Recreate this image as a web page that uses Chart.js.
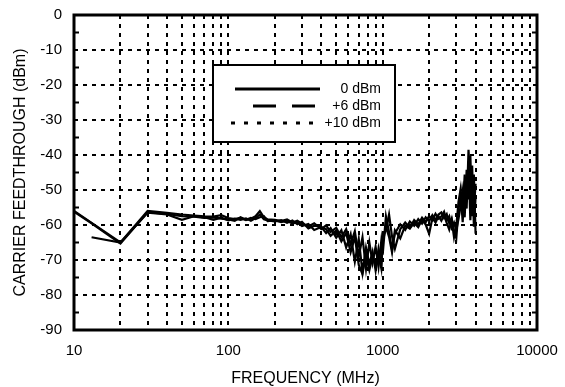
<!doctype html>
<html lang="en">

<head>
    <meta charset="utf-8">
    <title>Carrier Feedthrough vs Frequency</title>
    <style>
        body { margin: 0; background: #fff; }
    </style>
</head>

<body>
    <div id="container" style="width:565px;height:387px"><canvas id="chart"></canvas></div>

    <script type="text/javascript" src="https://cdn.jsdelivr.net/npm/chart.js@4/dist/chart.umd.min.js"></script>
    <script type="text/javascript">
        const FREQ = [10, 13, 20, 30, 40, 50, 60, 70, 80, 90,
            100, 110, 120, 130, 140, 150, 160, 170, 180, 200,
            220, 240, 260, 280, 300, 330, 360, 400, 430, 460,
            500, 540, 580, 620, 660, 700, 740, 780, 820, 860,
            900, 940, 980, 1000, 1050, 1100, 1150, 1200, 1300, 1400,
            1500, 1600, 1700, 1800, 1900, 2000, 2100, 2200, 2300, 2400,
            2500, 2600, 2700, 2800, 2900, 3000, 3100, 3200, 3300, 3400,
            3500, 3600, 3700, 3800, 3900, 4000];
        const DBM_0 = [-56, -59.4, -65, -56, -56.5, -57, -57.3, -57.5, -57.6, -57.2,
            -58, -58.3, -58, -58.6, -58.2, -57.5, -56, -57.8, -58.4, -58.5,
            -58.9, -58.4, -59.3, -58.8, -59.6, -60.4, -59.5, -61.2, -60.1, -62,
            -60.8, -63.5, -61.2, -65.5, -61.8, -69, -63.5, -72.5, -65, -70.8,
            -66.2, -72, -64.5, -68.5, -57.5, -62, -67, -62.4, -59.8, -61.4,
            -59, -60.2, -58.3, -59.6, -57.8, -58.9, -57.2, -58.5, -57, -56.4,
            -58, -56.9, -59.5, -58.2, -61.6, -63.8, -55.5, -51, -59.2, -47.5,
            -55.3, -38.5, -49.5, -43, -60.5, -52];
        const DBM_6 = [null, -63.5, -65, -56.5, -57, -58.5, -57.5, -57.8, -58.5, -57.9,
            -58.7, -58.2, -58.5, -58.1, -58.8, -58, -57, -58.4, -58.7, -59,
            -58.6, -59.4, -58.7, -59.8, -59.1, -61, -60.2, -60.5, -62.3, -60.9,
            -63.6, -61.5, -66.4, -62.6, -70.5, -64, -73.5, -66.5, -71.2, -67.6,
            -73, -66.8, -70.9, -63.2, -61.5, -57, -63.3, -66.8, -61.2, -59.3,
            -60.8, -58.6, -59.8, -57.9, -59.2, -57.4, -58.6, -56.8, -58.2, -57.6,
            -56.2, -58.7, -57.5, -60.8, -59.3, -61.5, -58.2, -54.6, -50.3, -57.8,
            -44.2, -52.7, -40.2, -57.5, -45.6, -62.5];
        const DBM_10 = [-56.2, -59.5, -65.3, -56.3, -56.8, -57.5, -57.6, -58, -57.8, -58.2,
            -58.4, -58.8, -57.8, -58.5, -58, -58.3, -57.8, -57.5, -58.9, -58.7,
            -59.2, -58.8, -59.6, -59.2, -60.3, -59.7, -61.4, -60.6, -61.2, -63.1,
            -61.6, -64.7, -62.3, -67.8, -63.4, -71.4, -74, -68.3, -72.9, -69,
            -71.6, -68.2, -72.4, -65, -60.5, -63.4, -67.8, -61.5, -63.8, -60.2,
            -61, -59.4, -60.6, -58.5, -59.9, -62.5, -58, -59.3, -57.5, -58.8,
            -57.1, -59.4, -61.3, -58.5, -63.5, -60.4, -53.4, -49.7, -56.8, -45.6,
            -53.5, -41.8, -58.6, -46.3, -55.4, -48.2];
        const X_LABELS = [10, 100, 1000, 10000];
        const SERIES_NAMES = ["0 dBm", "+6 dBm", "+10 dBm"];

        [DBM_0, DBM_6, DBM_10].forEach(s => {
            if (s.length !== FREQ.length) throw new Error("length mismatch " + s.length + " vs " + FREQ.length);
        });

        const toPoints = vals => FREQ.map((f, i) => ({ x: f, y: vals[i] })).filter(p => p.y !== null);

        // every 1..9 x decade gets a grid line, only decades get a label
        const logTicks = [];
        for (let d = 10; d < 10000; d *= 10) {
            for (let m = 1; m < 10; m++) logTicks.push({ value: m * d });
        }
        logTicks.push({ value: 10000 });

        const framePlugin = {
            id: "frame",
            afterDraw(chart) {
                const { ctx, chartArea: a } = chart;
                const y = chart.scales.y;
                ctx.save();
                ctx.strokeStyle = "#000";
                // inward minor ticks at the odd 5 dB marks, both sides
                ctx.lineWidth = 2;
                ctx.beginPath();
                for (let v = -5; v > -90; v -= 10) {
                    const py = y.getPixelForValue(v);
                    ctx.moveTo(a.left, py); ctx.lineTo(a.left + 5, py);
                    ctx.moveTo(a.right, py); ctx.lineTo(a.right - 5, py);
                }
                ctx.stroke();
                ctx.lineWidth = 3;
                ctx.strokeRect(a.left, a.top, a.right - a.left, a.bottom - a.top);

                // legend box
                const bx = 213, by = 65, bw = 182, bh = 77;
                ctx.fillStyle = "#fff";
                ctx.fillRect(bx, by, bw, bh);
                ctx.lineWidth = 2;
                ctx.strokeRect(bx, by, bw, bh);
                const rows = [
                    { y: 89, x0: 235, x1: 320, dash: [] },
                    { y: 106, x0: 253, x1: 316, dash: [23, 16] },
                    { y: 123, x0: 231, x1: 314, dash: [4, 9] }
                ];
                ctx.font = "14px 'Liberation Sans', Arial, sans-serif";
                ctx.textAlign = "right";
                ctx.textBaseline = "middle";
                rows.forEach((r, i) => {
                    ctx.lineWidth = 3;
                    ctx.setLineDash(r.dash);
                    ctx.beginPath();
                    ctx.moveTo(r.x0, r.y); ctx.lineTo(r.x1, r.y);
                    ctx.stroke();
                    ctx.setLineDash([]);
                    ctx.fillStyle = "#000";
                    ctx.fillText(SERIES_NAMES[i], 381, r.y);
                });
                ctx.restore();
            }
        };

        const lineStyle = {
            borderColor: "#000",
            borderWidth: 2.2,
            pointRadius: 0,
            tension: 0,
            fill: false
        };

        const config = {
            type: "line",
            data: {
                datasets: [
                    { label: SERIES_NAMES[0], data: toPoints(DBM_0), ...lineStyle },
                    { label: SERIES_NAMES[1], data: toPoints(DBM_6), ...lineStyle },
                    { label: SERIES_NAMES[2], data: toPoints(DBM_10), ...lineStyle }
                ]
            },
            options: {
                responsive: true,
                maintainAspectRatio: false,
                animation: false,
                layout: { padding: { top: 15, right: 28, left: 0, bottom: 0 } },
                scales: {
                    x: {
                        type: "logarithmic",
                        min: 10,
                        max: 10000,
                        afterBuildTicks: s => { s.ticks = logTicks.map(t => ({ ...t })); },
                        afterFit: s => { s.height = 57; s.paddingLeft = 0; s.paddingRight = 0; },
                        grid: {
                            color: "#000",
                            lineWidth: 2,
                            drawTicks: false
                        },
                        border: { display: false, dash: [4, 5] },
                        ticks: {
                            autoSkip: false,
                            maxRotation: 0,
                            padding: 12,
                            color: "#000",
                            font: { family: "'Liberation Sans', Arial, sans-serif", size: 15 },
                            callback: v => X_LABELS.includes(v) ? String(v) : ""
                        },
                        title: {
                            display: true,
                            text: "FREQUENCY (MHz)",
                            color: "#000",
                            padding: { top: 0, bottom: 0 },
                            font: { family: "'Liberation Sans', Arial, sans-serif", size: 16, lineHeight: 1 }
                        }
                    },
                    y: {
                        min: -90,
                        max: 0,
                        afterFit: s => { s.width = 74; s.paddingTop = 0; s.paddingBottom = 0; },
                        grid: {
                            color: "#000",
                            lineWidth: 2,
                            drawTicks: false
                        },
                        border: { display: false, dash: [4, 5] },
                        ticks: {
                            stepSize: 10,
                            padding: 12,
                            color: "#000",
                            font: { family: "'Liberation Sans', Arial, sans-serif", size: 15 }
                        },
                        title: {
                            display: true,
                            text: "CARRIER FEEDTHROUGH (dBm)",
                            color: "#000",
                            padding: { top: 13, bottom: 0 },
                            font: { family: "'Liberation Sans', Arial, sans-serif", size: 16, lineHeight: 1 }
                        }
                    }
                },
                plugins: {
                    legend: { display: false },
                    tooltip: { enabled: false }
                }
            },
            plugins: [framePlugin]
        };
        const chart = new Chart("chart", config);
    </script>
</body>

</html>
